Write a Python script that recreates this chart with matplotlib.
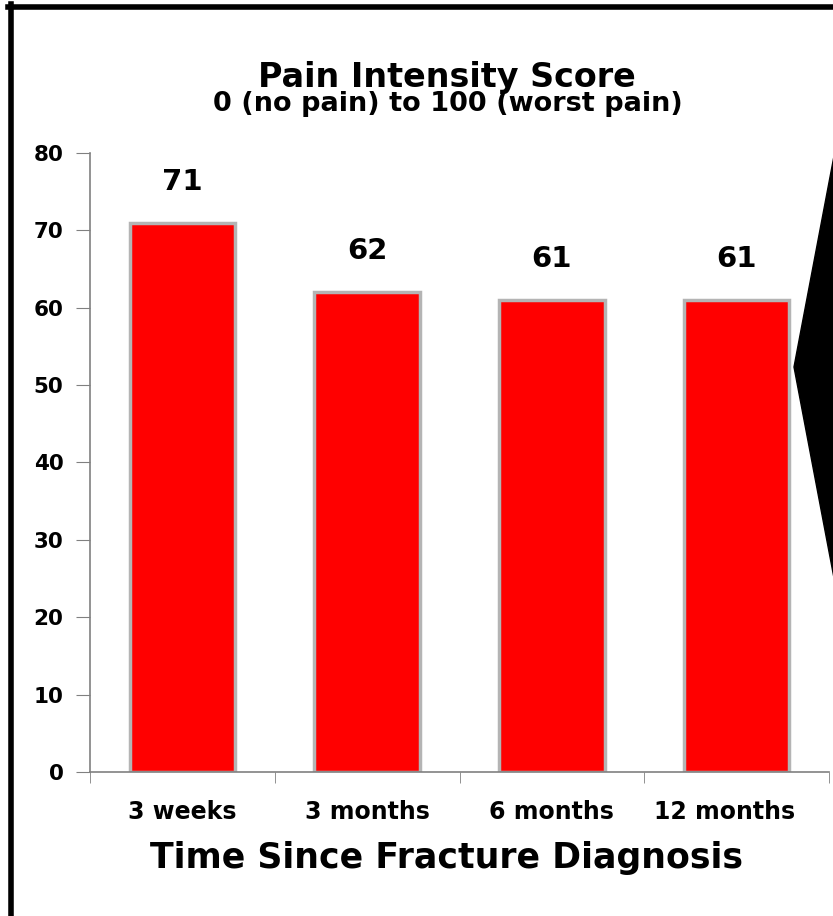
import numpy as np
import matplotlib.pyplot as plt
import matplotlib.transforms as mtransforms
from matplotlib.patches import Polygon
from matplotlib.lines import Line2D

# данные с графика
categories = ["3 weeks", "3 months", "6 months", "12 months"]
scores = [71, 62, 61, 61]
y_ticks = [0, 10, 20, 30, 40, 50, 60, 70, 80]

# шрифт пошире — в оригинале текст растянут по горизонтали
plt.rcParams['font.family'] = ['DejaVu Sans']
plt.rcParams['font.weight'] = 'bold'

W, H = 833, 916
fig = plt.figure(figsize=(W / 100, H / 100), dpi=100)

# оси в пикселях: x 90..829, y 153..772
ax = fig.add_axes([90 / W, 1 - 772 / H, 739 / W, 619 / H])

x = np.arange(len(categories))
ax.bar(x, scores, width=0.57, color="#ff0000", edgecolor="#b4b4b4", linewidth=2.5)

for xi, v in zip(x, scores):
    ax.text(xi, v + 5.3, f"{v}", ha="center", va="center", fontsize=21, fontweight="bold")

ax.set_xlim(-0.5, len(categories) - 0.5)
ax.set_ylim(0, 80)
ax.set_yticks(y_ticks)
ax.set_yticklabels([str(t) for t in y_ticks], fontsize=15.5, fontweight="bold")

# категории подписываем без тиков, тики ставим на границах
ax.set_xticks(x)
ax.set_xticklabels(categories, fontsize=17, fontweight="bold")
ax.tick_params(axis="x", length=0, pad=20)
ax.set_xticks(np.arange(-0.5, len(categories)), minor=True)
ax.tick_params(axis="x", which="minor", length=8, color="#808080", direction="out")
ax.tick_params(axis="y", length=10, color="#808080", direction="out", pad=9)

# последняя подпись в оригинале чуть сдвинута влево
last = ax.get_xticklabels()[-1]
last.set_transform(last.get_transform() +
                   mtransforms.ScaledTranslation(-12 / 100, 0, fig.dpi_scale_trans))

for s in ["top", "right"]:
    ax.spines[s].set_visible(False)
for s in ["left", "bottom"]:
    ax.spines[s].set_color("#808080")
    ax.spines[s].set_linewidth(1.2)

ax.set_xlabel("Time Since Fracture Diagnosis", fontsize=25, fontweight="bold", va="center")
ax.xaxis.set_label_coords((446.5 - 90) / 739, (772 - 858) / 619)

fig.text(447 / W, 1 - 77 / H, "Pain Intensity Score", ha="center", va="center",
         fontsize=24, fontweight="bold")
fig.text(448 / W, 1 - 104 / H, "0 (no pain) to 100 (worst pain)", ha="center", va="center",
         fontsize=19.5, fontweight="bold")

# рамка слева и сверху
fig.add_artist(Line2D([10.5 / W, 10.5 / W], [0, 1 - 4 / H], color="black", linewidth=4,
                      transform=fig.transFigure))
fig.add_artist(Line2D([8 / W, 1], [1 - 6.5 / H, 1 - 6.5 / H], color="black", linewidth=4,
                      transform=fig.transFigure))

# черная стрелка справа
tri = Polygon([[834 / W, 1 - 156 / H], [794 / W, 1 - 367 / H], [834 / W, 1 - 578 / H]],
              closed=True, facecolor="black", edgecolor="black", transform=fig.transFigure)
fig.add_artist(tri)

fig.savefig("out.png", dpi=100)
